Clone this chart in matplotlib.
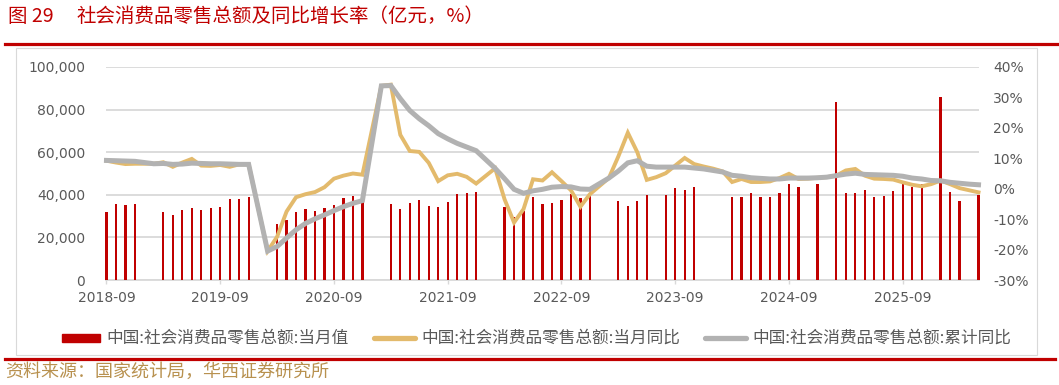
import numpy as np
import matplotlib
matplotlib.use("Agg")
import matplotlib.pyplot as plt
from matplotlib.patches import Rectangle
from matplotlib.lines import Line2D
from matplotlib.ticker import FuncFormatter

plt.rcParams['font.family'] = ['Noto Sans CJK SC', 'DejaVu Sans']

# one slot per month row of the source table, 2018-09 ... (None = no value)
retail_value = [
    32005, 35534, 35260, 35893, None, None,
    31726, 30586, 32956, 33878, 33073, 33896, 34495, 38104, 38094, 38777, None, None,
    26450, 28178, 31973, 33526, 32203, 33571, 35295, 38576, 39514, 36600, None, None,
    35484, 33153, 35945, 37586, 34925, 34395, 36833, 40454, 41043, 41269, None, None,
    34233, 29483, 32300, 38742, 35870, 36258, 37745, 40271, 38615, 39300, None, None,
    37300, 34700, 37300, 39700, None, 39700, 43000, 42200, 43500, None, None, None,
    39000, 39000, 40900, 39000, 39000, 40900, 45200, 43700, None, 45100, None, 83700,
    40900, 40900, 42300, 38800, 39600, 41700, 45200, 43700, 45100, None, 86000,
    41500, 37300, None, 40000,
]
monthly_yoy = [
    9.2, 8.6, 8.1, 8.2, None, 8.2,
    8.7, 7.2, 8.6, 9.8, 7.6, 7.5, 7.8, 7.2, 8.0, 8.0, None, -20.5,
    -15.8, -7.5, -2.8, -1.8, -1.1, 0.5, 3.3, 4.3, 5.0, 4.6, None, 33.8,
    34.2, 17.7, 12.4, 12.1, 8.5, 2.5, 4.4, 4.9, 3.9, 1.7, None, 6.7,
    -3.5, -11.1, -6.7, 3.1, 2.7, 5.4, 2.5, -0.5, -5.9, -1.8, None, 3.5,
    10.6, 18.4, 12.0, 2.9, 3.8, 5.1, 7.6, 10.1, 8.1, 7.3, 6.6, 5.7,
    2.2, 3.2, 2.2, 2.2, 2.4, 3.5, 4.9, 3.2, 3.3, 3.6, 3.8, 4.3,
    6.0, 6.5, 4.3, 3.3, 3.2, 3.0, 2.1, 1.3, 0.8, 1.5, 2.7,
    1.5, 0.2, -0.5, -1.2,
]
ytd_yoy = [
    9.3, 9.2, 9.1, 9.0, None, 8.2,
    8.3, 8.0, 8.1, 8.4, 8.3, 8.2, 8.2, 8.1, 8.0, 8.0, None, -20.5,
    -19.0, -16.2, -13.5, -11.4, -9.9, -8.6, -7.2, -5.9, -4.8, -3.9, None, 33.8,
    33.9, 29.6, 25.7, 23.0, 20.7, 18.1, 16.4, 14.9, 13.7, 12.5, None, 6.7,
    3.3, -0.2, -1.5, -0.7, -0.2, 0.5, 0.7, 0.6, -0.1, -0.2, None, 3.5,
    5.8, 8.5, 9.2, 7.4, 7.1, 7.1, 7.1, 7.1, 6.8, 6.5, 6.0, 5.5,
    4.4, 4.1, 3.6, 3.4, 3.2, 3.2, 3.5, 3.5, 3.5, 3.6, 3.8, 4.3,
    4.8, 5.1, 4.7, 4.6, 4.5, 4.4, 4.1, 3.5, 3.2, 2.7, 2.6,
    2.1, 1.8, 1.5, 1.3,
]
tick_labels = ['2018-09', '2019-09', '2020-09', '2021-09',
               '2022-09', '2023-09', '2024-09', '2025-09']
legend_labels = ['中国:社会消费品零售总额:当月值',
                 '中国:社会消费品零售总额:当月同比',
                 '中国:社会消费品零售总额:累计同比']

RED = '#c00000'
GOLD = '#e3ba6c'
GREY = '#b2b2b2'
TXT = '#595959'
GRID = '#d9d9d9'

W, H = 1059, 385
fig = plt.figure(figsize=(W / 100, H / 100), dpi=100)

ax = fig.add_axes([106 / W, 1 - 280 / H, (979 - 106) / W, 213 / H])
ax2 = ax.twinx()

n = len(retail_value)
x = np.arange(n)
bars = np.array([np.nan if v is None else v for v in retail_value], dtype=float)
ok = ~np.isnan(bars)
ax.bar(x[ok], bars[ok], width=0.24, color=RED, zorder=3, clip_on=False)

for series, col, lw in [(monthly_yoy, GOLD, 2.8), (ytd_yoy, GREY, 3.6)]:
    arr = np.array([np.nan if v is None else v for v in series], dtype=float)
    m = ~np.isnan(arr)
    ax2.plot(x[m], arr[m], color=col, lw=lw, solid_joinstyle='miter', clip_on=False)

ax.set_xlim(-0.05, n - 1 + 0.05)
ax.set_ylim(0, 100000)
ax.set_yticks(np.arange(0, 100001, 20000))
ax.yaxis.set_major_formatter(FuncFormatter(lambda v, p: '{:,.0f}'.format(v)))
ax2.set_ylim(-30, 40)
ax2.set_yticks(np.arange(-30, 41, 10))
ax2.yaxis.set_major_formatter(FuncFormatter(lambda v, p: '{:.0f}%'.format(v)))

ax.set_xticks(np.arange(0, n, 12))
ax.set_xticklabels(tick_labels)
ax.grid(axis='y', color=GRID, lw=1.3, zorder=0)
ax.set_axisbelow(True)

for a in (ax, ax2):
    for s in ('top', 'left', 'right'):
        a.spines[s].set_visible(False)
    a.spines['bottom'].set_color(GRID)
    a.spines['bottom'].set_linewidth(1.3)
ax2.spines['bottom'].set_visible(False)

ax.tick_params(axis='x', colors=GRID, length=3, width=1, labelcolor=TXT,
               labelsize=10, pad=5)
ax.tick_params(axis='y', length=0, labelcolor=TXT, labelsize=10, pad=15)
ax2.tick_params(axis='y', length=0, labelcolor=TXT, labelsize=10, pad=10)
for lab in ax.get_xticklabels() + ax.get_yticklabels() + ax2.get_yticklabels():
    lab.set_family(['DejaVu Sans'])

# chart frame and header / footer rules
fig.add_artist(Rectangle((16 / W, 1 - 355 / H), (1037 - 16) / W, (355 - 48) / H,
                         transform=fig.transFigure, fill=False, ec=GRID, lw=0.8))
fig.add_artist(Line2D([5 / W, 1], [1 - 43.5 / H] * 2, color=RED, lw=2.3))
fig.add_artist(Line2D([5 / W, 1055 / W], [1 - 358.5 / H] * 2, color=RED, lw=2.3))

fig.text(8 / W, 1 - 16 / H, '图 29', color=RED, fontsize=14, va='center')
fig.text(76 / W, 1 - 16 / H, '社会消费品零售总额及同比增长率（亿元，%）',
         color=RED, fontsize=14, va='center')
fig.text(5 / W, 1 - 372 / H, '资料来源：国家统计局，华西证券研究所',
         color='#b8914f', fontsize=13, va='center')

# legend laid out by hand: key start, key end, text start (pixels)
ly = 1 - 338 / H
keys = [(62, 100, 106), (374, 415, 421), (705, 746, 752)]
for (k0, k1, t0), lab, col in zip(keys, legend_labels, [RED, GOLD, GREY]):
    if col == RED:
        fig.add_artist(Rectangle((k0 / W, ly - 4 / H), (k1 - k0) / W, 8 / H,
                                 transform=fig.transFigure, color=col))
    else:
        fig.add_artist(Line2D([k0 / W, k1 / W], [ly, ly], color=col, lw=3.8,
                              solid_capstyle='round'))
    fig.text(t0 / W, ly, lab, color=TXT, fontsize=12, va='center')

fig.savefig('out.png', dpi=100)
